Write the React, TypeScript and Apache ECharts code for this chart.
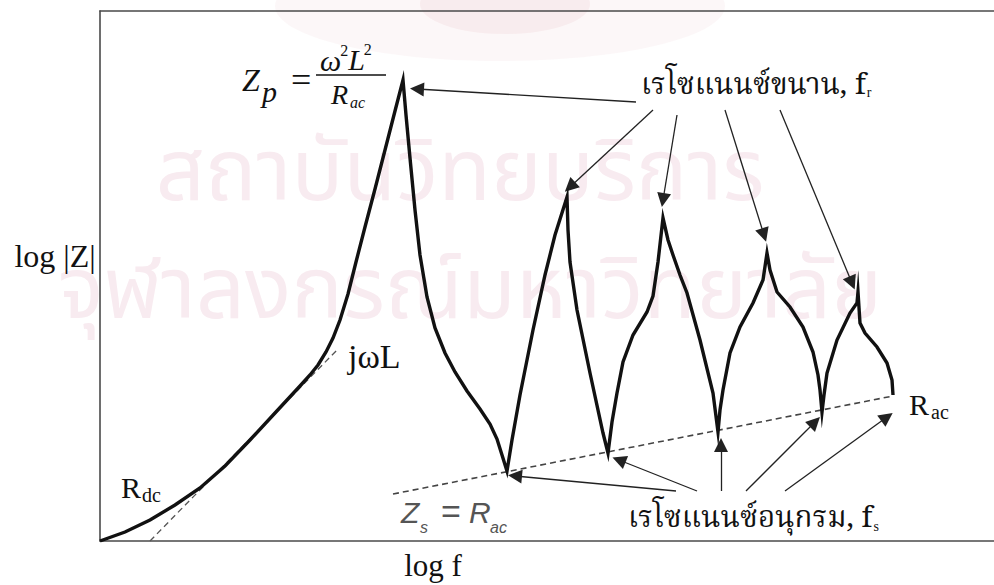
import React, { useEffect, useRef } from "react";
import * as echarts from "echarts";

// Impedance magnitude |Z| against frequency, both on log scales (arbitrary decades)
const logF = [
  0, 0.25, 0.5, 0.75, 1.0, 1.25, 1.5, 1.75, 2.0, 2.1, 2.18, 2.26, 2.33, 2.4, 2.48, 2.56, 2.65, 2.75, 2.85, 2.95, 3.03,
  3.06, 3.1, 3.15, 3.2, 3.27, 3.35, 3.45, 3.55, 3.67, 3.8, 3.9, 3.97, 4.02, 4.07,
  4.12, 4.2, 4.33, 4.45, 4.55, 4.67,
  4.68, 4.7, 4.77, 4.9, 5.03, 5.08,
  5.12, 5.17, 5.23, 5.33, 5.47, 5.53, 5.58, 5.63,
  5.68, 5.73, 5.8, 5.87, 6.0, 6.13, 6.18,
  6.2, 6.23, 6.3, 6.4, 6.53, 6.63, 6.67,
  6.7, 6.77, 6.9, 7.03, 7.13, 7.18, 7.2, 7.22,
  7.24, 7.27, 7.37, 7.5, 7.57, 7.58,
  7.6, 7.65, 7.77, 7.87, 7.92, 7.93,
];
const logZ = [
  0, 0.09, 0.21, 0.36, 0.53, 0.75, 1.01, 1.28, 1.55, 1.66, 1.76, 1.89, 2.03, 2.21, 2.47, 2.79, 3.14, 3.52, 3.91, 4.3, 4.61,
  4.26, 3.83, 3.31, 2.86, 2.44, 2.13, 1.88, 1.69, 1.5, 1.32, 1.17, 1.02, 0.86, 0.7,
  1.01, 1.46, 2.11, 2.66, 3.06, 3.44,
  3.11, 2.79, 2.31, 1.68, 1.08, 0.88,
  1.19, 1.48, 1.79, 2.06, 2.29, 2.45, 2.79, 3.23,
  3.01, 2.86, 2.66, 2.48, 2.01, 1.48, 1.09,
  1.31, 1.51, 1.88, 2.14, 2.38, 2.61, 2.88,
  2.71, 2.49, 2.34, 2.14, 1.89, 1.66, 1.51, 1.29,
  1.46, 1.68, 2.01, 2.28, 2.38, 2.49,
  2.18, 2.08, 1.94, 1.78, 1.61, 1.46,
];

// Asymptotes: series-resonance floor (Zs = Rac) and the inductive slope (jωL)
const racLine = [
  [2.93, 0.47],
  [7.93, 1.45],
];
const jwlLine = [
  [0.5, 0],
  [2.37, 1.91],
];

// Pointer arrows [from, to]: parallel resonances fr and series resonances fs
const parallelArrows = [
  [[5.36, 4.39], [3.17, 4.52]],
  [[5.53, 4.31], [4.7, 3.54]],
  [[5.77, 4.26], [5.63, 3.41]],
  [[6.25, 4.31], [6.64, 3.06]],
  [[6.8, 4.31], [7.52, 2.58]],
];
const seriesArrows = [
  [[5.76, 0.5], [4.15, 0.65]],
  [[5.97, 0.5], [5.19, 0.81]],
  [[6.21, 0.5], [6.21, 0.96]],
  [[6.46, 0.5], [7.15, 1.19]],
  [[6.85, 0.5], [7.87, 1.24]],
];

const X_MAX = 8.94;
const Y_MAX = 5.3;

const SERIF = '"Liberation Serif", "DejaVu Serif", serif';
const SANS = '"Liberation Sans", Arial, sans-serif';
const THAI = '"Noto Serif Thai", "Noto Sans Thai", "Liberation Serif", serif';
const WATERMARK_FONT = '"Noto Sans Thai", "Noto Sans", sans-serif';

let measureCtx: CanvasRenderingContext2D | null = null;
function measure(text: string, size: number, family: string, italic = false) {
  if (!measureCtx) measureCtx = document.createElement("canvas").getContext("2d");
  if (!measureCtx) return text.length * size * 0.5;
  measureCtx.font = `${italic ? "italic " : ""}${size}px ${family}`;
  return measureCtx.measureText(text).width;
}

function txt(x: number, y: number, text: string, size: number, opts: any = {}) {
  return {
    type: "text",
    x,
    y,
    z: 10,
    style: {
      text,
      fontSize: size,
      fontFamily: opts.family || SERIF,
      fontStyle: opts.italic ? "italic" : "normal",
      fill: opts.fill || "#111",
      textAlign: opts.align || "left",
      textVerticalAlign: "middle",
      align: opts.align || "left",
      verticalAlign: "middle",
    },
  };
}

function watermark(x: number, y: number, text: string) {
  return {
    type: "text",
    x,
    y,
    z: -8,
    silent: true,
    style: {
      text,
      fontSize: 86,
      lineHeight: 70,
      fontFamily: WATERMARK_FONT,
      fill: "#f8ebf0",
      textAlign: "center",
      textVerticalAlign: "middle",
      align: "center",
      verticalAlign: "middle",
    },
  };
}

export default function App() {
  const ref = useRef<HTMLDivElement>(null);

  useEffect(() => {
    if (!ref.current) return;
    const chart = echarts.init(ref.current, undefined, { renderer: "svg" });
    const curve = logF.map((f, i) => [f, logZ[i]]);
    const axisLine = { show: true, onZero: false, lineStyle: { color: "#4a4a4a", width: 1.6 } };
    const hidden = {
      axisTick: { show: false },
      axisLabel: { show: false },
      splitLine: { show: false },
    };
    const arrowStyle = { color: "#222", width: 1.3, opacity: 1 };

    // Zp = ω²L² / Rac, laid out piece by piece
    const omegaW = measure("ω", 30, SERIF, true);
    const sup1W = measure("2", 16, SERIF);
    const lW = measure("L", 30, SERIF, true);
    const omegaX = 320;
    const sup1X = omegaX + omegaW - 1;
    const lX = sup1X + sup1W;
    const sup2X = lX + lW - 1;

    // resonance labels with subscripts following the text
    const frText = "เรโซแนนซ์ขนาน, f";
    const fsText = "เรโซแนนซ์อนุกรม, f";
    const frX = 641;
    const fsX = 628;
    const frW = measure(frText, 29.5, THAI);
    const fsW = measure(fsText, 29.5, THAI);

    const grey = "#555";

    chart.setOption({
      animation: false,
      backgroundColor: "#fff",
      grid: { left: 100, right: 0, top: 11, bottom: 44 },
      xAxis: [
        { type: "value", min: 0, max: X_MAX, position: "bottom", axisLine, ...hidden },
        { type: "value", min: 0, max: X_MAX, position: "top", axisLine, ...hidden },
      ],
      yAxis: { type: "value", min: 0, max: Y_MAX, axisLine, ...hidden },
      graphic: [
        // faint institutional watermark behind the plot
        {
          type: "ellipse",
          z: -10,
          silent: true,
          shape: { cx: 500, cy: 6, rx: 225, ry: 55 },
          style: { fill: "rgba(240, 212, 214, 0.18)" },
        },
        {
          type: "ellipse",
          z: -9,
          silent: true,
          shape: { cx: 505, cy: 4, rx: 85, ry: 30 },
          style: { fill: "rgba(226, 170, 178, 0.14)" },
        },
        watermark(460, 174, "สถาบันวิทยบริการ"),
        watermark(470, 292, "จุฬาลงกรณ์มหาวิทยาลัย"),
        // axis titles
        txt(55, 256, "log |Z|", 32, { align: "center" }),
        txt(433, 565, "log f", 31, { align: "center" }),
        // Zp = ω²L² / Rac
        txt(242, 80, "Z", 32, { italic: true }),
        txt(262, 91, "p", 30, { italic: true }),
        txt(291, 80, "=", 36),
        txt(omegaX, 60, "ω", 30, { italic: true }),
        txt(sup1X, 50, "2", 16),
        txt(lX, 59, "L", 30, { italic: true }),
        txt(sup2X, 49, "2", 16),
        {
          type: "line",
          z: 10,
          shape: { x1: 316, y1: 75, x2: 386, y2: 75 },
          style: { stroke: "#111", lineWidth: 1.6 },
        },
        txt(331, 94, "R", 28, { italic: true }),
        txt(350, 102, "ac", 16, { italic: true }),
        // resonance labels
        txt(frX, 86, frText, 29.5, { family: THAI }),
        txt(frX + frW + 1, 92, "r", 14),
        txt(fsX, 519, fsText, 29.5, { family: THAI }),
        txt(fsX + fsW + 1, 526, "s", 14),
        // asymptote labels
        txt(348, 356, "jωL", 34),
        txt(121, 487, "R", 30),
        txt(142, 495, "dc", 20),
        txt(909, 404, "R", 30),
        txt(931, 412, "ac", 20),
        txt(401, 512, "Z", 30, { italic: true, family: SANS, fill: grey }),
        txt(420, 527, "s", 16, { italic: true, family: SANS, fill: grey }),
        txt(441, 511, "=", 34, { family: SANS, fill: grey }),
        txt(469, 512, "R", 30, { italic: true, family: SANS, fill: grey }),
        txt(490, 527, "ac", 16, { italic: true, family: SANS, fill: grey }),
      ],
      series: [
        {
          name: "|Z|",
          type: "line",
          data: curve,
          symbol: "none",
          z: 5,
          lineStyle: { color: "#111", width: 3.4, join: "miter", miterLimit: 20 },
        },
        {
          name: "Rac asymptote",
          type: "line",
          data: racLine,
          symbol: "none",
          z: 3,
          lineStyle: { color: "#444", width: 1.6, type: [6, 4] },
        },
        {
          name: "jωL asymptote",
          type: "line",
          data: jwlLine,
          symbol: "none",
          z: 3,
          lineStyle: { color: "#555", width: 1.3, type: [6, 4] },
        },
        {
          name: "parallel resonance",
          type: "lines",
          coordinateSystem: "cartesian2d",
          symbol: ["none", "triangle"],
          symbolSize: [11, 14],
          z: 4,
          lineStyle: arrowStyle,
          data: parallelArrows.map((c) => ({ coords: c })),
        },
        {
          name: "series resonance",
          type: "lines",
          coordinateSystem: "cartesian2d",
          symbol: ["none", "triangle"],
          symbolSize: [11, 14],
          z: 4,
          lineStyle: arrowStyle,
          data: seriesArrows.map((c) => ({ coords: c })),
        },
      ],
    });
    return () => chart.dispose();
  }, []);

  return (
    <div
      ref={ref}
      style={{ position: "fixed", left: 0, top: 0, width: 994, height: 585, background: "#fff" }}
    />
  );
}
